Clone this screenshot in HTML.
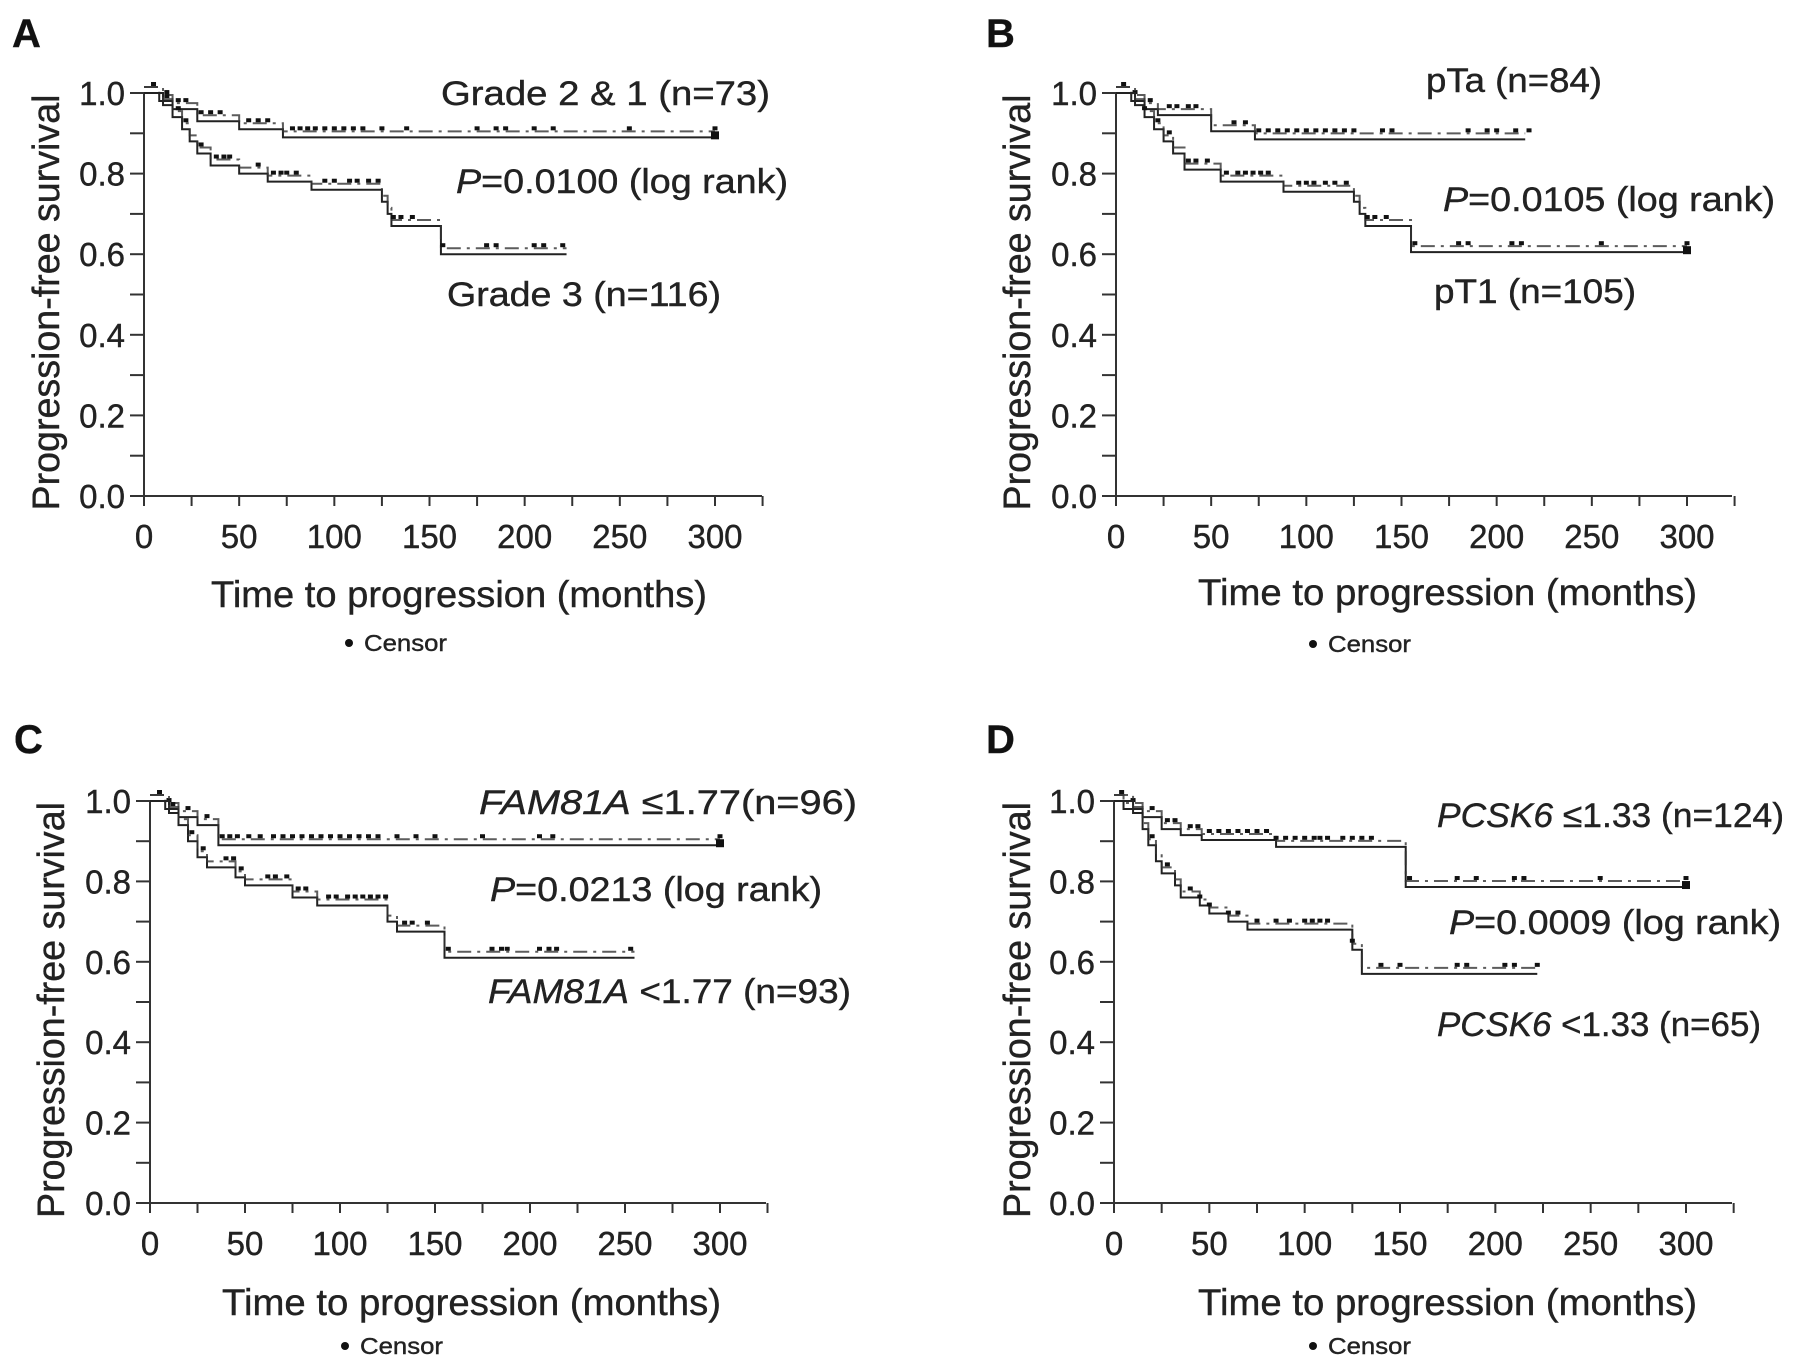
<!DOCTYPE html>
<html><head><meta charset="utf-8"><style>
html,body{margin:0;padding:0;background:#fff;}
svg{display:block;font-family:"Liberation Sans",sans-serif;}
svg text{stroke:#222;stroke-width:0.4px;}
</style></head><body>
<svg id="fig" width="1795" height="1372" viewBox="0 0 1795 1372" xmlns="http://www.w3.org/2000/svg"></svg>
<script>
// ---- data (time in months, survival probability) ----
const xTicks = [0, 50, 100, 150, 200, 250, 300];
const yTicks = [0.0, 0.2, 0.4, 0.6, 0.8, 1.0];

const aHighT = [0, 8, 15, 28, 50, 73];
const aHighS = [1.0, 0.98, 0.96, 0.93, 0.91, 0.89];
const aHighEnd = 300;
const aHighCens = [5,12,18,22,30,35,40,55,60,65,78,82,86,90,95,100,105,110,115,125,138,175,185,190,205,215,255,300];
const aLowT = [0, 10, 15, 20, 24, 28, 35, 50, 65, 88, 125, 128, 130, 156];
const aLowS = [1.0, 0.97, 0.94, 0.91, 0.88, 0.85, 0.82, 0.80, 0.78, 0.76, 0.73, 0.70, 0.67, 0.60];
const aLowEnd = 222;
const aLowCens = [12,18,22,30,38,42,45,60,68,72,75,80,95,100,108,112,118,123,131,135,141,157,180,185,205,210,220];

const bHighT = [0, 8, 15, 22, 50, 73];
const bHighS = [1.0, 0.98, 0.96, 0.945, 0.905, 0.885];
const bHighEnd = 215;
const bHighCens = [4,10,18,28,32,38,42,62,68,75,80,85,90,95,100,105,110,115,120,125,140,145,185,195,200,210,217];
const bLowT = [0, 10, 15, 20, 25, 30, 36, 55, 88, 125, 128, 131, 155];
const bLowS = [1.0, 0.97, 0.94, 0.91, 0.88, 0.85, 0.81, 0.78, 0.755, 0.73, 0.70, 0.67, 0.605];
const bLowEnd = 300;
const bLowCens = [15,22,28,38,42,48,58,64,68,72,76,80,96,100,104,110,115,121,132,136,142,157,180,185,208,213,255,300];

const cHighT = [0, 8, 15, 25, 36];
const cHighS = [1.0, 0.98, 0.96, 0.94, 0.89];
const cHighEnd = 300;
const cHighCens = [5,10,20,30,38,42,46,52,58,65,70,75,80,85,90,95,100,105,110,115,120,130,140,150,175,205,212,300];
const cLowT = [0, 10, 15, 20, 25, 30, 45, 50, 75, 88, 125, 130, 155];
const cLowS = [1.0, 0.97, 0.94, 0.90, 0.86, 0.835, 0.81, 0.79, 0.76, 0.74, 0.70, 0.675, 0.61];
const cLowEnd = 255;
const cLowCens = [12,22,28,40,44,48,62,66,72,78,82,94,98,104,108,112,116,120,124,134,138,146,157,180,185,188,205,210,214,253];

const dHighT = [0, 5, 15, 25, 35, 46, 85, 153];
const dHighS = [1.0, 0.98, 0.96, 0.93, 0.915, 0.903, 0.886, 0.786];
const dHighEnd = 300;
const dHighCens = [4,10,20,28,32,40,44,50,55,60,65,70,75,80,85,90,95,100,105,108,112,120,125,130,135,155,180,190,210,215,255,300];
const dLowT = [0, 10, 15, 18, 22, 25, 32, 35, 45, 50, 60, 70, 125, 130];
const dLowS = [1.0, 0.97, 0.93, 0.89, 0.85, 0.82, 0.79, 0.76, 0.74, 0.72, 0.70, 0.68, 0.63, 0.57];
const dLowEnd = 222;
const dLowCens = [20,28,40,45,50,60,65,75,85,92,100,104,108,112,125,140,150,180,185,205,210,222];

const NS = "http://www.w3.org/2000/svg";
const svg = document.getElementById('fig');
function mk(tag, attrs, parent) {
  const e = document.createElementNS(NS, tag);
  for (const k in attrs) e.setAttribute(k, attrs[k]);
  (parent || svg).appendChild(e);
  return e;
}
function txt(parent, x, y, str, size, extra) {
  const t = mk('text', Object.assign({x: x, y: y, 'font-size': size, fill: '#222'}, extra || {}), parent);
  t.textContent = str;
  return t;
}

function survAt(T, S, t) {
  let s = S[0];
  for (let i = 0; i < T.length; i++) if (T[i] <= t) s = S[i];
  return s;
}

function panel(cfg) {
  const g = mk('g', {});
  
  
  const X = t => cfg.ox + (t / 300) * (cfg.x300 - cfg.ox);
  const Y = s => cfg.y0 - s * (cfg.y0 - cfg.y1);

  const L = txt(g, cfg.lx, cfg.ly, cfg.id, 40, {'font-weight': 'bold', fill: '#111'});
  
  

  const ax = mk('g', {stroke: '#333', 'stroke-width': 2, fill: 'none'}, g);
  
  
  mk('line', {x1: cfg.ox, y1: cfg.y1 - 1, x2: cfg.ox, y2: cfg.y0}, ax);
  mk('line', {x1: cfg.ox, y1: cfg.y0, x2: cfg.axEnd, y2: cfg.y0}, ax);
  for (let t = 0; t <= 325; t += 25) mk('line', {x1: X(t), y1: cfg.y0, x2: X(t), y2: cfg.y0 + 10}, ax);
  for (let k = 0; k <= 10; k++) { const s = k / 10; mk('line', {x1: cfg.ox - 14, y1: Y(s), x2: cfg.ox, y2: Y(s)}, ax); }

  xTicks.forEach(v => {
    const t = txt(g, X(v), cfg.y0 + 52, String(v), 33, {'text-anchor': 'middle'});
    
    
  });
  yTicks.forEach(v => {
    const t = txt(g, cfg.ox - 19, Y(v) + 12, v.toFixed(1), 33, {'text-anchor': 'end'});
    
    
  });

  const xt = txt(g, cfg.xtX, cfg.xtY, 'Time to progression (months)', 37, {textLength: cfg.xtW, lengthAdjust: 'spacingAndGlyphs'});
  
  
  const ytc = (cfg.y0 + cfg.y1) / 2 + 8;
  const yt = txt(g, 0, 0, 'Progression-free survival', 38, {textLength: 416, lengthAdjust: 'spacingAndGlyphs', 'text-anchor': 'middle', transform: 'translate(' + (cfg.ytX + 2) + ',' + ytc + ') rotate(-90)'});
  
  

  const lg = mk('g', {}, g);
  
  
  mk('circle', {cx: cfg.cdX, cy: cfg.cdY, r: 4, fill: '#111'}, lg);
  txt(lg, cfg.cdX + 15, cfg.cdY + 8, 'Censor', 23, {textLength: 83, lengthAdjust: 'spacingAndGlyphs'});

  cfg.series.forEach(sr => {
    const sg = mk('g', {}, g);
    
    
    let d = 'M' + X(sr.T[0]) + ' ' + Y(sr.S[0]);
    for (let i = 1; i < sr.T.length; i++) {
      d += ' H' + X(sr.T[i]) + ' V' + Y(sr.S[i]);
    }
    d += ' H' + X(sr.end);
    mk('path', {d: d, fill: 'none', stroke: '#222', 'stroke-width': 2}, sg);
    mk('path', {d: d, fill: 'none', stroke: '#333', 'stroke-width': 2, 'stroke-dasharray': '14 6 3 6', transform: 'translate(0,-6)', opacity: 0.8}, sg);
    sr.C.forEach(c => {
      const m = mk('rect', {x: X(c) - 2.5, y: Y(survAt(sr.T, sr.S, c)) - 11, width: 5, height: 4, fill: '#111'}, sg);
      
      
    });
    if (sr.end === 300) {
      mk('rect', {x: X(300) - 4, y: Y(survAt(sr.T, sr.S, 300)) - 6, width: 8, height: 8, fill: '#111'}, sg);
    }
  });

  cfg.notes.forEach(n => {
    const t = mk('text', {x: n.x, y: n.y, 'font-size': 34, fill: '#222', textLength: n.w, lengthAdjust: 'spacingAndGlyphs'}, g);
    
    
    n.parts.forEach(p => {
      const ts = mk('tspan', p[1] ? {'font-style': 'italic'} : {}, t);
      ts.textContent = p[0];
    });
  });
}

panel({id: 'A', ox: 144, x300: 715, y1: 93, y0: 496, axEnd: 762, lx: 12, ly: 47,
  xtX: 211, xtY: 607, xtW: 496, ytX: 57, cdX: 349, cdY: 643,
  series: [{name: 'grade-2-1', T: aHighT, S: aHighS, end: aHighEnd, C: aHighCens},
           {name: 'grade-3', T: aLowT, S: aLowS, end: aLowEnd, C: aLowCens}],
  notes: [{name: 'label-grade-2-1', x: 441, y: 105, w: 329, parts: [['Grade 2 &  1 (n=73)', false]]},
          {name: 'p-value', x: 456, y: 193, w: 332, parts: [['P', true], ['=0.0100 (log rank)', false]]},
          {name: 'label-grade-3', x: 447, y: 306, w: 274, parts: [['Grade 3 (n=116)', false]]}]});

panel({id: 'B', ox: 1116, x300: 1687, y1: 93, y0: 496, axEnd: 1732, lx: 986, ly: 47,
  xtX: 1198, xtY: 605, xtW: 499, ytX: 1028, cdX: 1313, cdY: 644,
  series: [{name: 'pta', T: bHighT, S: bHighS, end: bHighEnd, C: bHighCens},
           {name: 'pt1', T: bLowT, S: bLowS, end: bLowEnd, C: bLowCens}],
  notes: [{name: 'label-pta', x: 1426, y: 92, w: 176, parts: [['pTa (n=84)', false]]},
          {name: 'p-value', x: 1443, y: 211, w: 332, parts: [['P', true], ['=0.0105 (log rank)', false]]},
          {name: 'label-pt1', x: 1434, y: 303, w: 202, parts: [['pT1 (n=105)', false]]}]});

panel({id: 'C', ox: 150, x300: 720, y1: 801, y0: 1203, axEnd: 766, lx: 14, ly: 753,
  xtX: 222, xtY: 1315, xtW: 499, ytX: 62, cdX: 345, cdY: 1346,
  series: [{name: 'fam81a-high', T: cHighT, S: cHighS, end: cHighEnd, C: cHighCens},
           {name: 'fam81a-low', T: cLowT, S: cLowS, end: cLowEnd, C: cLowCens}],
  notes: [{name: 'label-fam81a-high', x: 479, y: 814, w: 378, parts: [['FAM81A', true], ['  \u22641.77(n=96)', false]]},
          {name: 'p-value', x: 490, y: 901, w: 332, parts: [['P', true], ['=0.0213 (log rank)', false]]},
          {name: 'label-fam81a-low', x: 488, y: 1003, w: 363, parts: [['FAM81A', true], [' <1.77 (n=93)', false]]}]});

panel({id: 'D', ox: 1114, x300: 1686, y1: 801, y0: 1203, axEnd: 1732, lx: 986, ly: 753,
  xtX: 1198, xtY: 1315, xtW: 499, ytX: 1028, cdX: 1313, cdY: 1346,
  series: [{name: 'pcsk6-high', T: dHighT, S: dHighS, end: dHighEnd, C: dHighCens},
           {name: 'pcsk6-low', T: dLowT, S: dLowS, end: dLowEnd, C: dLowCens}],
  notes: [{name: 'label-pcsk6-high', x: 1437, y: 827, w: 347, parts: [['PCSK6', true], [' \u22641.33 (n=124)', false]]},
          {name: 'p-value', x: 1449, y: 934, w: 332, parts: [['P', true], ['=0.0009 (log rank)', false]]},
          {name: 'label-pcsk6-low', x: 1437, y: 1036, w: 324, parts: [['PCSK6', true], [' <1.33 (n=65)', false]]}]});
</script>
</body></html>
